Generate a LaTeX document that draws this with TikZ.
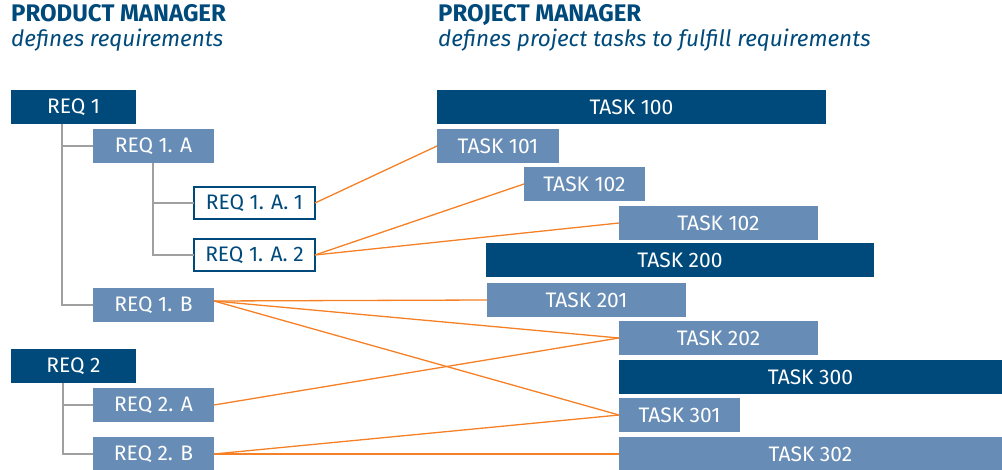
\documentclass[tikz,border=0pt]{standalone}
\usepackage{fontspec}
\setmainfont{Fira Sans}
\definecolor{dblue}{HTML}{004A7B}
\definecolor{lblue}{HTML}{678CB5}
\definecolor{lorange}{HTML}{F58025}
\definecolor{tgray}{HTML}{A0A0A0}
\begin{document}
\begin{tikzpicture}[x=1pt,y=-1pt,
  box/.style={anchor=north west,inner sep=0pt,outer sep=0pt,minimum height=34pt,font=\fontsize{21}{24}\selectfont},
  dbox/.style={box,fill=dblue,text=white},
  lbox/.style={box,fill=lblue,text=white},
  obox/.style={box,draw=dblue,line width=1.5pt,fill=white,text=dblue,minimum height=32pt},
  tree/.style={draw=tgray,line width=1.5pt},
  link/.style={draw=lorange,line width=1.3pt},
  ttl/.style={anchor=base west,inner sep=0pt,text=dblue,font=\fontsize{24}{28}\selectfont\bfseries},
  sub/.style={anchor=base west,inner sep=0pt,text=dblue,font=\fontsize{22.5}{26}\selectfont\itshape}]
\path[use as bounding box] (0,0) rectangle (1002,470);
% titles
\node[ttl] (pmt) at (11,22) {PRODUCT MANAGER};
\node[sub] (pms) at (11,47) {defines requirements};
\node[ttl] (prt) at (438,22) {PROJECT MANAGER};
\node[sub] (prs) at (438,47) {defines project tasks to fulfill requirements};
% requirements
\node[dbox,minimum width=125pt] (r1) at (11,90) {REQ 1};
\node[lbox,minimum width=121pt] (r1a) at (93,129) {REQ 1. A};
\node[obox,minimum width=121pt] (r1a1) at (194,187) {REQ 1. A. 1};
\node[obox,minimum width=121pt] (r1a2) at (194,239) {REQ 1. A. 2};
\node[lbox,minimum width=121pt] (r1b) at (93,288) {REQ 1. B};
\node[dbox,minimum width=125pt] (r2) at (11,349) {REQ 2};
\node[lbox,minimum width=121pt] (r2a) at (93,388) {REQ 2. A};
\node[lbox,minimum width=121pt] (r2b) at (93,437) {REQ 2. B};
% tree lines
\coordinate (c1) at (62,0);
\coordinate (c1a) at (153,0);
\coordinate (c2) at (63,0);
\draw[tree] (r1.south -| c1) |- (r1b.west);
\draw[tree] (r1a.west -| c1) -- (r1a.west);
\draw[tree] (r1a.south -| c1a) |- (r1a2.west);
\draw[tree] (r1a1.west -| c1a) -- (r1a1.west);
\draw[tree] (r2.south -| c2) |- (r2b.west);
\draw[tree] (r2a.west -| c2) -- (r2a.west);
% tasks
\node[dbox,minimum width=389pt] (t100) at (437,90) {TASK 100};
\node[lbox,minimum width=122pt] (t101) at (437,129) {TASK 101};
\node[lbox,minimum width=121pt] (t102a) at (524,167) {TASK 102};
\node[lbox,minimum width=199pt] (t102b) at (619,206) {TASK 102};
\node[dbox,minimum width=388pt] (t200) at (486,243) {TASK 200};
\node[lbox,minimum width=199pt] (t201) at (487,283) {TASK 201};
\node[lbox,minimum width=199pt] (t202) at (619,321) {TASK 202};
\node[dbox,minimum width=383pt] (t300) at (619,360) {TASK 300};
\node[lbox,minimum width=121pt] (t301) at (619,398) {TASK 301};
\node[lbox,minimum width=383pt] (t302) at (619,437) {TASK 302};
% links
\draw[link] (r1a1.east) -- (t101.west);
\draw[link] (r1a2.east) -- (t102a.west);
\draw[link] (r1a2.east) -- (t102b.west);
\draw[link] ([yshift=4pt]r1b.east) -- (t201.west);
\draw[link] ([yshift=4pt]r1b.east) -- (t202.west);
\draw[link] ([yshift=4pt]r1b.east) -- (t301.west);
\draw[link] (r2a.east) -- (t202.west);
\draw[link] (r2b.east) -- (t301.west);
\draw[link] (r2b.east) -- (t302.west);
\end{tikzpicture}
\end{document}
